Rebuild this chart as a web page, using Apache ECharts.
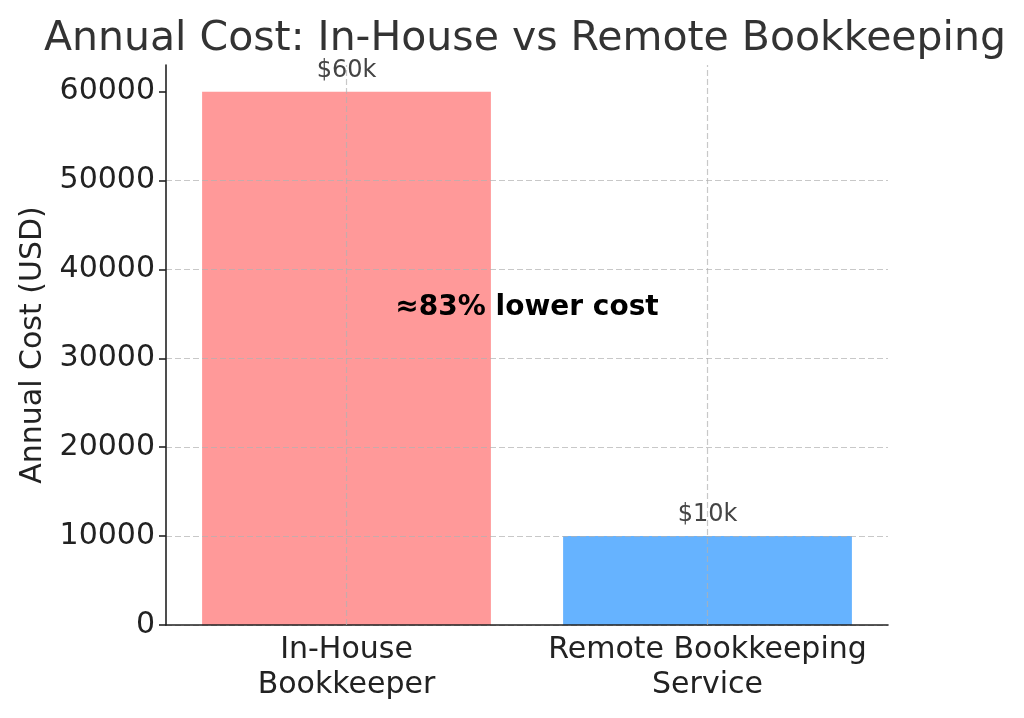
<!DOCTYPE html>
<html><head><meta charset="utf-8">
<script src="https://cdn.jsdelivr.net/npm/echarts@6/dist/echarts.min.js"></script>
<style>html,body{margin:0;padding:0;background:#fff}#c{width:1024px;height:718px}</style>
</head><body><div id="c"></div>
<script>
const categories = ['In-House\nBookkeeper', 'Remote Bookkeeping\nService'];
const annualCost = [60000, 10000];
const valueLabels = ['$60k', '$10k'];
const yTicks = [0, 10000, 20000, 30000, 40000, 50000, 60000];
const annotationText = '≈83% lower cost';
const annotationValue = 35000;
const barColors = ['#FF9999', '#66B3FF'];
const FONT = 'DejaVu Sans';
const gridColor = 'rgba(176,176,176,0.7)';

const chart = echarts.init(document.getElementById('c'), null, {renderer: 'canvas'});
chart.setOption({
  animation: false,
  backgroundColor: '#fff',
  title: {text: 'Annual Cost: In-House vs Remote Bookkeeping', left: 520, textAlign: 'center', top: 14,
    textStyle: {fontFamily: FONT, fontSize: 41, fontWeight: 'normal', color: '#333'}},
  grid: {left: 166, right: 136, top: 65, bottom: 93, containLabel: false},
  xAxis: {type: 'category', data: categories, z: 3,
    axisLine: {lineStyle: {color: '#222', width: 1.6}},
    axisTick: {alignWithLabel: true, length: 7, lineStyle: {color: '#222', width: 1.6}},
    axisLabel: {interval: 0, fontFamily: FONT, fontSize: 30, color: '#222', lineHeight: 35, margin: 8},
    splitLine: {show: false}},
  yAxis: {type: 'value', min: 0, max: 63000, interval: 10000, z: 3,
    name: 'Annual Cost (USD)', nameLocation: 'middle', nameGap: 113,
    nameTextStyle: {fontFamily: FONT, fontSize: 30, color: '#222'},
    axisLine: {show: true, lineStyle: {color: '#222', width: 1.6}},
    axisTick: {show: true, length: 7, customValues: yTicks, lineStyle: {color: '#222', width: 1.6}},
    axisLabel: {fontFamily: FONT, fontSize: 30, color: '#222', margin: 11, customValues: yTicks,
      formatter: v => String(v)},
    splitLine: {show: true, showMaxLine: false, lineStyle: {color: gridColor, type: [6, 3], width: 1.2}}},
  series: [{type: 'bar', barWidth: '80%', z: 2,
    data: annualCost.map((v, i) => ({value: v, itemStyle: {color: barColors[i]}})),
    label: {show: true, position: 'top', distance: 9, formatter: p => valueLabels[p.dataIndex],
      fontFamily: FONT, fontSize: 24, color: '#444'},
    markLine: {silent: true, symbol: 'none', label: {show: false},
      lineStyle: {color: gridColor, type: [6, 3], width: 1.2},
      data: categories.map(c => ({xAxis: c}))}
  }]
});
const x0 = chart.convertToPixel({xAxisIndex: 0}, categories[0]);
const x1 = chart.convertToPixel({xAxisIndex: 0}, categories[1]);
const ya = chart.convertToPixel({yAxisIndex: 0}, annotationValue);
chart.setOption({graphic: [{type: 'text', x: (x0 + x1) / 2, y: ya + 8, z: 10,
  style: {text: annotationText, font: 'bold 28px "DejaVu Sans"', fill: '#000', align: 'center', verticalAlign: 'bottom'}}]});
</script></body></html>
